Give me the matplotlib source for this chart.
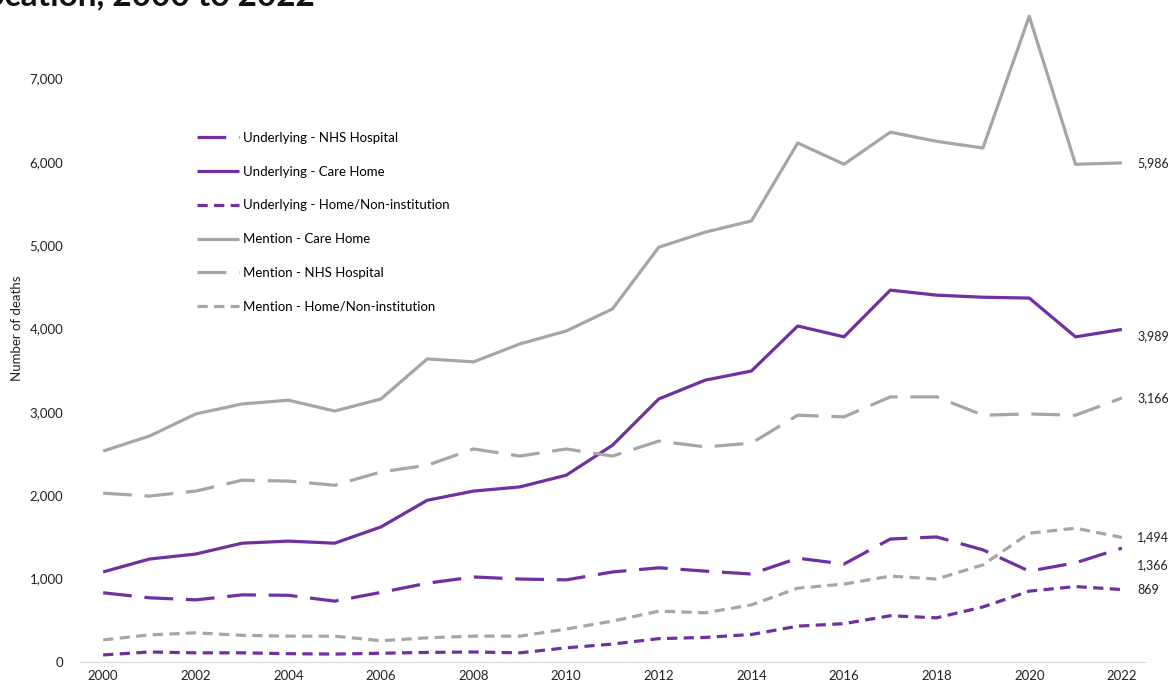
import numpy as np
import matplotlib.pyplot as plt

plt.rcParams['font.family'] = ['Lato', 'DejaVu Sans']

years = list(range(2000, 2023))

# deaths by place of occurrence, underlying cause vs any mention
und_hospital = [830, 770, 745, 805, 800, 730, 835, 945, 1020, 995, 985, 1080,
                1130, 1090, 1055, 1245, 1175, 1475, 1500, 1345, 1090, 1190, 1366]
und_carehome = [1080, 1235, 1295, 1425, 1450, 1425, 1620, 1940, 2050, 2100, 2240, 2600,
                3155, 3380, 3490, 4030, 3900, 4460, 4400, 4375, 4365, 3900, 3989]
und_home = [85, 120, 110, 110, 100, 95, 105, 115, 120, 110, 170, 215,
            280, 295, 330, 430, 460, 555, 530, 660, 850, 905, 869]
men_carehome = [2530, 2710, 2975, 3095, 3140, 3010, 3155, 3635, 3600, 3815, 3970, 4235,
                4975, 5155, 5290, 6225, 5970, 6355, 6245, 6165, 7745, 5970, 5986]
men_hospital = [2025, 1990, 2050, 2180, 2170, 2120, 2280, 2360, 2555, 2470, 2555, 2470,
                2650, 2580, 2625, 2960, 2940, 3180, 3180, 2960, 2975, 2960, 3166]
men_home = [265, 325, 350, 320, 310, 310, 255, 290, 310, 310, 395, 490,
            610, 590, 685, 885, 935, 1030, 995, 1165, 1545, 1605, 1494]

purple = '#7030A0'
grey = '#A6A6A6'
long_dash = (9, 4)
short_dash = (3.2, 2)

series = [
    ('Underlying - NHS Hospital', und_hospital, purple, long_dash),
    ('Underlying - Care Home', und_carehome, purple, None),
    ('Underlying - Home/Non-institution', und_home, purple, short_dash),
    ('Mention - Care Home', men_carehome, grey, None),
    ('Mention - NHS Hospital', men_hospital, grey, long_dash),
    ('Mention - Home/Non-institution', men_home, grey, short_dash),
]

fig = plt.figure(figsize=(11.7, 6.84), dpi=100)
ax = fig.add_axes([80 / 1170, 22 / 684, 1065 / 1170, 667 / 684])

for name, vals, col, dash in series:
    line, = ax.plot(years, vals, color=col, lw=2.3, label=name,
                    solid_capstyle='butt', dash_capstyle='butt')
    if dash is not None:
        line.set_dashes(dash)

# value labels at the 2022 end of each line (a couple nudged down to avoid overlap)
nudge = {'Underlying - Care Home': -5, 'Underlying - NHS Hospital': -12}
for name, vals, col, dash in series:
    ax.annotate(f'{vals[-1]:,}', xy=(years[-1], vals[-1]),
                xytext=(11, nudge.get(name, 0)), textcoords='offset points',
                va='center', ha='left', fontsize=9, color='#222222',
                annotation_clip=False)

ax.set_xlim(1999.5, 2022.5)
ax.set_ylim(0, 8000)
ax.set_xticks(range(2000, 2023, 2))
ax.set_yticks(range(0, 8000, 1000))
ax.yaxis.set_major_formatter(plt.FuncFormatter(lambda v, p: f'{int(v):,}'))
ax.tick_params(length=0, labelsize=9.5, colors='#222222')
ax.tick_params(axis='y', pad=12)
ax.tick_params(axis='x', pad=6)
for side in ['top', 'right', 'left']:
    ax.spines[side].set_visible(False)
ax.spines['bottom'].set_color('#D9D9D9')
ax.set_ylabel('Number of deaths', fontsize=9.5, color='#222222', labelpad=5)

ax.legend(loc='upper left', bbox_to_anchor=(105 / 1065, 1 - 125 / 667), frameon=False,
          fontsize=9.5, handlelength=3.2, handletextpad=0.3, labelspacing=1.65)

fig.text(315 / 1170, 1 - 5 / 684, 'location, 2000 to 2022', fontsize=24, fontweight='bold',
         ha='right', va='baseline', color='#111111')

fig.savefig('out.png', dpi=100)
